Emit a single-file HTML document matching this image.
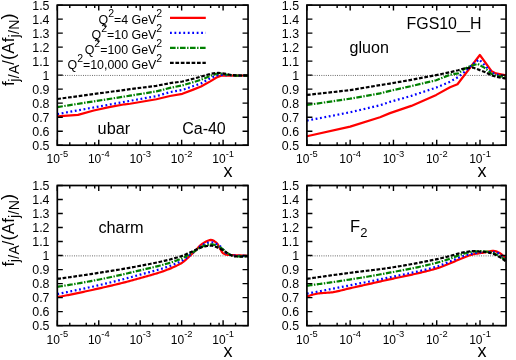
<!DOCTYPE html>
<html><head><meta charset="utf-8"><title>FGS10_H nuclear ratios</title>
<style>
html,body{margin:0;padding:0;background:#fff;}
body{width:516px;height:360px;overflow:hidden;font-family:"Liberation Sans", sans-serif;}
svg{display:block;font-family:"Liberation Sans", sans-serif;will-change:transform;}
text{fill:#000;font-family:"Liberation Sans", sans-serif;}
</style></head><body>
<svg width="516" height="360" viewBox="0 0 516 360">
<rect width="516" height="360" fill="#fff"/>
<line x1="60.50" x2="248.05" y1="75.45" y2="75.45" stroke="#4a4a4a" stroke-width="0.9" stroke-dasharray="0.9,1.35"/>
<clipPath id="cp1"><rect x="57.3" y="5.1" width="190.75" height="140.1"/></clipPath>
<g clip-path="url(#cp1)" fill="none" stroke-linejoin="round">
<polyline points="57.30,116.40 78.02,114.84 93.77,110.46 109.11,107.09 124.86,104.29 130.00,103.77 156.36,99.25 170.00,96.02 182.39,93.83 193.25,89.62 201.00,86.50 210.29,81.37 216.50,77.53 221.15,75.61 225.17,75.43 236.36,75.57 248.05,75.57" stroke="#ff0000" stroke-width="2.2"/>
<polyline points="57.30,114.10 130.00,100.83 156.36,96.16 170.00,92.10 182.39,89.94 193.25,86.08 201.00,83.42 210.29,78.23 216.50,75.43 219.78,74.87 228.48,75.15 236.36,75.57 248.05,75.57" stroke="#0000ff" stroke-width="2.2" stroke-dasharray="1.8,2.65"/>
<polyline points="57.30,107.09 130.00,95.70 156.36,91.40 170.00,87.90 182.39,85.38 193.25,82.16 201.00,79.82 210.29,75.93 216.50,73.75 221.15,73.61 227.36,74.73 232.01,75.29 236.36,75.57 248.05,75.57" stroke="#008000" stroke-width="2.2" stroke-dasharray="5.6,1.5,1.4,1.5"/>
<polyline points="57.30,98.97 130.00,89.19 156.36,85.80 170.00,83.14 182.39,81.51 193.25,78.74 201.00,76.69 210.29,73.89 218.12,72.81 224.26,73.61 232.01,75.15 236.36,75.43 248.05,75.57" stroke="#000000" stroke-width="2.2" stroke-dasharray="3.7,1.7"/>
</g>
<path d="M57.3 145.20h5.5 M248.05 145.20h-5.5 M57.3 131.19h5.5 M248.05 131.19h-5.5 M57.3 117.18h5.5 M248.05 117.18h-5.5 M57.3 103.17h5.5 M248.05 103.17h-5.5 M57.3 89.16h5.5 M248.05 89.16h-5.5 M57.3 75.15h5.5 M248.05 75.15h-5.5 M57.3 61.14h5.5 M248.05 61.14h-5.5 M57.3 47.13h5.5 M248.05 47.13h-5.5 M57.3 33.12h5.5 M248.05 33.12h-5.5 M57.3 19.11h5.5 M248.05 19.11h-5.5 M57.3 5.10h5.5 M248.05 5.10h-5.5 M57.30 145.2v-5.5 M57.30 5.1v5.5 M69.78 145.2v-2.9 M69.78 5.1v2.9 M86.27 145.2v-2.9 M86.27 5.1v2.9 M94.73 145.2v-2.9 M94.73 5.1v2.9 M98.75 145.2v-5.5 M98.75 5.1v5.5 M111.23 145.2v-2.9 M111.23 5.1v2.9 M127.72 145.2v-2.9 M127.72 5.1v2.9 M136.18 145.2v-2.9 M136.18 5.1v2.9 M140.20 145.2v-5.5 M140.20 5.1v5.5 M152.68 145.2v-2.9 M152.68 5.1v2.9 M169.17 145.2v-2.9 M169.17 5.1v2.9 M177.63 145.2v-2.9 M177.63 5.1v2.9 M181.65 145.2v-5.5 M181.65 5.1v5.5 M194.12 145.2v-2.9 M194.12 5.1v2.9 M210.62 145.2v-2.9 M210.62 5.1v2.9 M219.08 145.2v-2.9 M219.08 5.1v2.9 M223.10 145.2v-5.5 M223.10 5.1v5.5 M235.57 145.2v-2.9 M235.57 5.1v2.9" stroke="#000" stroke-width="1.4" fill="none"/>
<rect x="57.3" y="5.1" width="190.75" height="140.1" fill="none" stroke="#000" stroke-width="1.7"/>
<text x="49.50" y="149.65" text-anchor="end" font-size="12.4">0.5</text>
<text x="49.50" y="135.64" text-anchor="end" font-size="12.4">0.6</text>
<text x="49.50" y="121.63" text-anchor="end" font-size="12.4">0.7</text>
<text x="49.50" y="107.62" text-anchor="end" font-size="12.4">0.8</text>
<text x="49.50" y="93.61" text-anchor="end" font-size="12.4">0.9</text>
<text x="49.50" y="79.60" text-anchor="end" font-size="12.4">1</text>
<text x="49.50" y="65.59" text-anchor="end" font-size="12.4">1.1</text>
<text x="49.50" y="51.58" text-anchor="end" font-size="12.4">1.2</text>
<text x="49.50" y="37.57" text-anchor="end" font-size="12.4">1.3</text>
<text x="49.50" y="23.56" text-anchor="end" font-size="12.4">1.4</text>
<text x="49.50" y="9.55" text-anchor="end" font-size="12.4">1.5</text>
<text x="46.50" y="163.40" font-size="12">10<tspan dy="-6.7" font-size="9.4">-5</tspan></text>
<text x="87.95" y="163.40" font-size="12">10<tspan dy="-6.7" font-size="9.4">-4</tspan></text>
<text x="129.40" y="163.40" font-size="12">10<tspan dy="-6.7" font-size="9.4">-3</tspan></text>
<text x="170.85" y="163.40" font-size="12">10<tspan dy="-6.7" font-size="9.4">-2</tspan></text>
<text x="212.30" y="163.40" font-size="12">10<tspan dy="-6.7" font-size="9.4">-1</tspan></text>
<text x="228.10" y="176.65" text-anchor="middle" font-size="18">x</text>
<line x1="310.10" x2="506.05" y1="75.45" y2="75.45" stroke="#4a4a4a" stroke-width="0.9" stroke-dasharray="0.9,1.35"/>
<clipPath id="cp2"><rect x="306.9" y="5.1" width="199.15000000000003" height="140.1"/></clipPath>
<g clip-path="url(#cp2)" fill="none" stroke-linejoin="round">
<polyline points="306.90,136.23 350.17,126.65 379.99,117.18 389.99,113.12 411.28,105.90 436.25,94.90 450.01,87.27 457.49,84.26 470.04,67.72 479.87,55.02 491.72,71.28 495.83,73.37 506.05,75.43" stroke="#ff0000" stroke-width="2.2"/>
<polyline points="306.90,120.60 350.17,112.28 379.99,105.27 389.99,101.84 411.28,95.88 436.25,87.55 450.01,81.73 458.14,77.11 463.94,72.26 470.87,65.76 479.17,59.46 491.72,72.67 496.44,74.59 506.05,76.41" stroke="#0000ff" stroke-width="2.2" stroke-dasharray="1.8,2.65"/>
<polyline points="306.90,104.99 350.17,98.69 379.99,93.36 389.99,90.84 411.28,86.08 436.25,80.26 450.01,74.73 458.14,73.37 463.94,69.20 470.87,65.76 477.79,63.94 484.71,67.86 491.72,74.07 496.44,75.71 506.05,77.25" stroke="#008000" stroke-width="2.2" stroke-dasharray="5.6,1.5,1.4,1.5"/>
<polyline points="306.90,94.96 350.17,90.14 379.99,85.10 389.99,83.56 411.28,79.84 436.25,75.05 450.01,72.26 458.14,70.25 463.94,68.51 472.94,67.53 484.71,71.98 491.72,75.43 496.44,76.83 506.05,78.65" stroke="#000000" stroke-width="2.2" stroke-dasharray="3.7,1.7"/>
</g>
<path d="M306.9 145.20h5.5 M506.05 145.20h-5.5 M306.9 131.19h5.5 M506.05 131.19h-5.5 M306.9 117.18h5.5 M506.05 117.18h-5.5 M306.9 103.17h5.5 M506.05 103.17h-5.5 M306.9 89.16h5.5 M506.05 89.16h-5.5 M306.9 75.15h5.5 M506.05 75.15h-5.5 M306.9 61.14h5.5 M506.05 61.14h-5.5 M306.9 47.13h5.5 M506.05 47.13h-5.5 M306.9 33.12h5.5 M506.05 33.12h-5.5 M306.9 19.11h5.5 M506.05 19.11h-5.5 M306.9 5.10h5.5 M506.05 5.10h-5.5 M306.90 145.2v-5.5 M306.90 5.1v5.5 M319.93 145.2v-2.9 M319.93 5.1v2.9 M337.15 145.2v-2.9 M337.15 5.1v2.9 M345.98 145.2v-2.9 M345.98 5.1v2.9 M350.17 145.2v-5.5 M350.17 5.1v5.5 M363.20 145.2v-2.9 M363.20 5.1v2.9 M380.42 145.2v-2.9 M380.42 5.1v2.9 M389.25 145.2v-2.9 M389.25 5.1v2.9 M393.45 145.2v-5.5 M393.45 5.1v5.5 M406.48 145.2v-2.9 M406.48 5.1v2.9 M423.70 145.2v-2.9 M423.70 5.1v2.9 M432.53 145.2v-2.9 M432.53 5.1v2.9 M436.72 145.2v-5.5 M436.72 5.1v5.5 M449.75 145.2v-2.9 M449.75 5.1v2.9 M466.97 145.2v-2.9 M466.97 5.1v2.9 M475.80 145.2v-2.9 M475.80 5.1v2.9 M480.00 145.2v-5.5 M480.00 5.1v5.5 M493.02 145.2v-2.9 M493.02 5.1v2.9" stroke="#000" stroke-width="1.4" fill="none"/>
<rect x="306.9" y="5.1" width="199.15000000000003" height="140.1" fill="none" stroke="#000" stroke-width="1.7"/>
<text x="299.10" y="149.65" text-anchor="end" font-size="12.4">0.5</text>
<text x="299.10" y="135.64" text-anchor="end" font-size="12.4">0.6</text>
<text x="299.10" y="121.63" text-anchor="end" font-size="12.4">0.7</text>
<text x="299.10" y="107.62" text-anchor="end" font-size="12.4">0.8</text>
<text x="299.10" y="93.61" text-anchor="end" font-size="12.4">0.9</text>
<text x="299.10" y="79.60" text-anchor="end" font-size="12.4">1</text>
<text x="299.10" y="65.59" text-anchor="end" font-size="12.4">1.1</text>
<text x="299.10" y="51.58" text-anchor="end" font-size="12.4">1.2</text>
<text x="299.10" y="37.57" text-anchor="end" font-size="12.4">1.3</text>
<text x="299.10" y="23.56" text-anchor="end" font-size="12.4">1.4</text>
<text x="299.10" y="9.55" text-anchor="end" font-size="12.4">1.5</text>
<text x="296.10" y="163.40" font-size="12">10<tspan dy="-6.7" font-size="9.4">-5</tspan></text>
<text x="339.37" y="163.40" font-size="12">10<tspan dy="-6.7" font-size="9.4">-4</tspan></text>
<text x="382.65" y="163.40" font-size="12">10<tspan dy="-6.7" font-size="9.4">-3</tspan></text>
<text x="425.92" y="163.40" font-size="12">10<tspan dy="-6.7" font-size="9.4">-2</tspan></text>
<text x="469.20" y="163.40" font-size="12">10<tspan dy="-6.7" font-size="9.4">-1</tspan></text>
<text x="482.00" y="176.65" text-anchor="middle" font-size="18">x</text>
<line x1="60.50" x2="248.05" y1="255.88" y2="255.88" stroke="#4a4a4a" stroke-width="0.9" stroke-dasharray="0.9,1.35"/>
<clipPath id="cp3"><rect x="57.3" y="185.5" width="190.75" height="140.14999999999998"/></clipPath>
<g clip-path="url(#cp3)" fill="none" stroke-linejoin="round">
<polyline points="57.30,297.16 58.50,296.93 59.70,296.70 60.90,296.47 62.10,296.23 63.30,296.00 64.50,295.76 65.70,295.53 66.90,295.29 68.10,295.05 69.30,294.81 70.50,294.56 71.70,294.32 72.90,294.07 74.10,293.83 75.30,293.58 76.49,293.33 77.69,293.08 78.89,292.83 80.09,292.57 81.29,292.32 82.49,292.06 83.69,291.80 84.89,291.54 86.09,291.28 87.29,291.02 88.49,290.76 89.69,290.50 90.89,290.23 92.09,289.97 93.29,289.70 94.49,289.43 95.69,289.16 96.89,288.89 98.09,288.62 99.29,288.35 100.49,288.08 101.69,287.81 102.89,287.53 104.09,287.26 105.29,286.98 106.49,286.71 107.69,286.43 108.89,286.16 110.09,285.88 111.29,285.60 112.48,285.32 113.68,285.03 114.88,284.75 116.08,284.46 117.28,284.17 118.48,283.88 119.68,283.59 120.88,283.29 122.08,282.99 123.28,282.69 124.48,282.38 125.68,282.07 126.88,281.76 128.08,281.44 129.28,281.12 130.48,280.79 131.68,280.47 132.88,280.13 134.08,279.80 135.28,279.45 136.48,279.11 137.68,278.78 138.88,278.44 140.08,278.11 141.28,277.78 142.48,277.45 143.68,277.12 144.88,276.79 146.08,276.46 147.28,276.13 148.47,275.79 149.67,275.46 150.87,275.12 152.07,274.77 153.27,274.42 154.47,274.06 155.67,273.70 156.87,273.33 158.07,272.95 159.27,272.57 160.47,272.18 161.67,271.77 162.87,271.36 164.07,270.94 165.27,270.50 166.47,270.05 167.67,269.59 168.87,269.12 170.07,268.63 171.27,268.13 172.47,267.61 173.67,267.08 174.87,266.53 176.07,265.96 177.27,265.38 178.47,264.78 179.67,264.15 180.87,263.49 182.07,262.71 183.27,261.84 184.47,260.88 185.66,259.86 186.86,258.79 188.06,257.67 189.26,256.53 190.46,255.38 191.66,254.24 192.86,253.11 194.06,252.00 195.26,250.79 196.46,249.50 197.66,248.17 198.86,246.87 200.06,245.64 201.26,244.54 202.46,243.63 203.66,242.91 204.86,242.21 206.06,241.55 207.26,240.95 208.46,240.45 209.66,240.10 210.86,239.93 212.06,240.03 213.26,240.51 214.46,241.26 215.66,242.17 216.86,243.16 218.06,244.76 219.26,246.95 220.46,249.34 221.65,251.52 222.85,253.10 224.05,253.84 225.25,254.35 226.45,254.71 227.65,254.89 228.85,254.96 230.05,255.01 231.25,255.05 232.45,255.09 233.65,255.13 234.85,255.18 236.05,255.24 237.25,255.29 238.45,255.35 239.65,255.41 240.85,255.47 242.05,255.53 243.25,255.59 244.45,255.66 245.65,255.72 246.85,255.79 248.05,255.86" stroke="#ff0000" stroke-width="2.2"/>
<polyline points="57.30,294.05 58.50,293.81 59.70,293.58 60.90,293.35 62.10,293.11 63.30,292.87 64.50,292.63 65.70,292.39 66.90,292.15 68.10,291.90 69.30,291.66 70.50,291.41 71.70,291.16 72.90,290.91 74.10,290.66 75.30,290.41 76.49,290.15 77.69,289.90 78.89,289.64 80.09,289.38 81.29,289.12 82.49,288.86 83.69,288.60 84.89,288.33 86.09,288.07 87.29,287.80 88.49,287.53 89.69,287.26 90.89,286.99 92.09,286.72 93.29,286.45 94.49,286.18 95.69,285.90 96.89,285.62 98.09,285.35 99.29,285.07 100.49,284.79 101.69,284.51 102.89,284.23 104.09,283.94 105.29,283.66 106.49,283.37 107.69,283.09 108.89,282.80 110.09,282.51 111.29,282.22 112.48,281.92 113.68,281.63 114.88,281.33 116.08,281.03 117.28,280.73 118.48,280.43 119.68,280.12 120.88,279.81 122.08,279.51 123.28,279.19 124.48,278.88 125.68,278.57 126.88,278.25 128.08,277.93 129.28,277.60 130.48,277.28 131.68,276.95 132.88,276.62 134.08,276.29 135.28,275.95 136.48,275.62 137.68,275.29 138.88,274.97 140.08,274.64 141.28,274.32 142.48,274.01 143.68,273.69 144.88,273.37 146.08,273.06 147.28,272.74 148.47,272.42 149.67,272.10 150.87,271.78 152.07,271.46 153.27,271.13 154.47,270.80 155.67,270.46 156.87,270.12 158.07,269.78 159.27,269.42 160.47,269.06 161.67,268.70 162.87,268.32 164.07,267.94 165.27,267.54 166.47,267.14 167.67,266.73 168.87,266.30 170.07,265.87 171.27,265.42 172.47,264.96 173.67,264.48 174.87,263.99 176.07,263.49 177.27,262.97 178.47,262.44 179.67,261.89 180.87,261.31 182.07,260.64 183.27,259.91 184.47,259.12 185.66,258.28 186.86,257.39 188.06,256.48 189.26,255.55 190.46,254.62 191.66,253.68 192.86,252.76 194.06,251.84 195.26,250.84 196.46,249.76 197.66,248.65 198.86,247.57 200.06,246.55 201.26,245.66 202.46,244.93 203.66,244.39 204.86,243.89 206.06,243.41 207.26,242.98 208.46,242.63 209.66,242.39 210.86,242.27 212.06,242.32 213.26,242.57 214.46,242.98 215.66,243.53 216.86,244.16 218.06,244.85 219.26,245.56 220.46,246.45 221.65,247.71 222.85,249.17 224.05,250.68 225.25,252.08 226.45,253.19 227.65,253.88 228.85,254.33 230.05,254.74 231.25,255.08 232.45,255.35 233.65,255.52 234.85,255.61 236.05,255.67 237.25,255.73 238.45,255.79 239.65,255.84 240.85,255.88 242.05,255.91 243.25,255.94 244.45,255.97 245.65,255.98 246.85,255.99 248.05,256.00" stroke="#0000ff" stroke-width="2.2" stroke-dasharray="1.8,2.65"/>
<polyline points="57.30,286.77 58.50,286.59 59.70,286.41 60.90,286.23 62.10,286.05 63.30,285.86 64.50,285.67 65.70,285.48 66.90,285.29 68.10,285.10 69.30,284.90 70.50,284.70 71.70,284.50 72.90,284.30 74.10,284.10 75.30,283.89 76.49,283.69 77.69,283.48 78.89,283.27 80.09,283.06 81.29,282.85 82.49,282.63 83.69,282.42 84.89,282.20 86.09,281.98 87.29,281.76 88.49,281.54 89.69,281.31 90.89,281.09 92.09,280.86 93.29,280.63 94.49,280.40 95.69,280.17 96.89,279.94 98.09,279.71 99.29,279.48 100.49,279.24 101.69,279.00 102.89,278.76 104.09,278.52 105.29,278.27 106.49,278.02 107.69,277.77 108.89,277.52 110.09,277.27 111.29,277.01 112.48,276.75 113.68,276.49 114.88,276.23 116.08,275.96 117.28,275.69 118.48,275.42 119.68,275.15 120.88,274.88 122.08,274.61 123.28,274.33 124.48,274.05 125.68,273.77 126.88,273.49 128.08,273.21 129.28,272.92 130.48,272.64 131.68,272.35 132.88,272.06 134.08,271.77 135.28,271.48 136.48,271.19 137.68,270.90 138.88,270.62 140.08,270.34 141.28,270.05 142.48,269.78 143.68,269.50 144.88,269.22 146.08,268.94 147.28,268.66 148.47,268.39 149.67,268.11 150.87,267.82 152.07,267.54 153.27,267.25 154.47,266.96 155.67,266.67 156.87,266.37 158.07,266.07 159.27,265.76 160.47,265.45 161.67,265.13 162.87,264.81 164.07,264.48 165.27,264.14 166.47,263.80 167.67,263.44 168.87,263.08 170.07,262.71 171.27,262.33 172.47,261.95 173.67,261.55 174.87,261.14 176.07,260.72 177.27,260.29 178.47,259.84 179.67,259.39 180.87,258.90 182.07,258.37 183.27,257.78 184.47,257.15 185.66,256.48 186.86,255.79 188.06,255.08 189.26,254.36 190.46,253.63 191.66,252.91 192.86,252.21 194.06,251.51 195.26,250.76 196.46,249.96 197.66,249.15 198.86,248.36 200.06,247.62 201.26,246.96 202.46,246.41 203.66,245.99 204.86,245.59 206.06,245.21 207.26,244.86 208.46,244.58 209.66,244.38 210.86,244.28 212.06,244.32 213.26,244.51 214.46,244.84 215.66,245.27 216.86,245.79 218.06,246.36 219.26,246.97 220.46,247.58 221.65,248.29 222.85,249.24 224.05,250.32 225.25,251.42 226.45,252.43 227.65,253.22 228.85,253.92 230.05,254.61 231.25,255.23 232.45,255.73 233.65,256.05 234.85,256.18 236.05,256.26 237.25,256.32 238.45,256.37 239.65,256.40 240.85,256.42 242.05,256.41 243.25,256.39 244.45,256.35 245.65,256.30 246.85,256.22 248.05,256.14" stroke="#008000" stroke-width="2.2" stroke-dasharray="5.6,1.5,1.4,1.5"/>
<polyline points="57.30,278.87 58.50,278.71 59.70,278.55 60.90,278.39 62.10,278.22 63.30,278.06 64.50,277.90 65.70,277.73 66.90,277.56 68.10,277.40 69.30,277.23 70.50,277.06 71.70,276.89 72.90,276.72 74.10,276.55 75.30,276.38 76.49,276.20 77.69,276.03 78.89,275.86 80.09,275.68 81.29,275.50 82.49,275.33 83.69,275.15 84.89,274.97 86.09,274.79 87.29,274.61 88.49,274.43 89.69,274.25 90.89,274.07 92.09,273.89 93.29,273.70 94.49,273.52 95.69,273.33 96.89,273.15 98.09,272.96 99.29,272.78 100.49,272.59 101.69,272.40 102.89,272.21 104.09,272.03 105.29,271.84 106.49,271.65 107.69,271.46 108.89,271.27 110.09,271.08 111.29,270.89 112.48,270.70 113.68,270.50 114.88,270.31 116.08,270.11 117.28,269.92 118.48,269.72 119.68,269.52 120.88,269.31 122.08,269.11 123.28,268.90 124.48,268.70 125.68,268.49 126.88,268.28 128.08,268.06 129.28,267.85 130.48,267.63 131.68,267.41 132.88,267.18 134.08,266.96 135.28,266.73 136.48,266.50 137.68,266.27 138.88,266.04 140.08,265.82 141.28,265.59 142.48,265.36 143.68,265.14 144.88,264.91 146.08,264.68 147.28,264.45 148.47,264.21 149.67,263.98 150.87,263.74 152.07,263.50 153.27,263.26 154.47,263.02 155.67,262.77 156.87,262.52 158.07,262.26 159.27,262.00 160.47,261.74 161.67,261.47 162.87,261.20 164.07,260.92 165.27,260.64 166.47,260.35 167.67,260.06 168.87,259.76 170.07,259.45 171.27,259.13 172.47,258.81 173.67,258.49 174.87,258.15 176.07,257.81 177.27,257.45 178.47,257.10 179.67,256.73 180.87,256.34 182.07,255.91 183.27,255.44 184.47,254.93 185.66,254.41 186.86,253.86 188.06,253.31 189.26,252.75 190.46,252.19 191.66,251.65 192.86,251.12 194.06,250.61 195.26,250.06 196.46,249.50 197.66,248.94 198.86,248.39 200.06,247.88 201.26,247.42 202.46,247.04 203.66,246.75 204.86,246.47 206.06,246.20 207.26,245.96 208.46,245.78 209.66,245.66 210.86,245.63 212.06,245.73 213.26,245.97 214.46,246.32 215.66,246.76 216.86,247.26 218.06,247.81 219.26,248.37 220.46,248.92 221.65,249.50 222.85,250.20 224.05,250.98 225.25,251.77 226.45,252.53 227.65,253.21 228.85,253.89 230.05,254.61 231.25,255.27 232.45,255.83 233.65,256.19 234.85,256.32 236.05,256.40 237.25,256.46 238.45,256.51 239.65,256.54 240.85,256.56 242.05,256.55 243.25,256.53 244.45,256.49 245.65,256.44 246.85,256.36 248.05,256.28" stroke="#000000" stroke-width="2.2" stroke-dasharray="3.7,1.7"/>
</g>
<path d="M57.3 325.65h5.5 M248.05 325.65h-5.5 M57.3 311.63h5.5 M248.05 311.63h-5.5 M57.3 297.62h5.5 M248.05 297.62h-5.5 M57.3 283.60h5.5 M248.05 283.60h-5.5 M57.3 269.59h5.5 M248.05 269.59h-5.5 M57.3 255.57h5.5 M248.05 255.57h-5.5 M57.3 241.56h5.5 M248.05 241.56h-5.5 M57.3 227.54h5.5 M248.05 227.54h-5.5 M57.3 213.53h5.5 M248.05 213.53h-5.5 M57.3 199.52h5.5 M248.05 199.52h-5.5 M57.3 185.50h5.5 M248.05 185.50h-5.5 M57.30 325.65v-5.5 M57.30 185.5v5.5 M69.78 325.65v-2.9 M69.78 185.5v2.9 M86.27 325.65v-2.9 M86.27 185.5v2.9 M94.73 325.65v-2.9 M94.73 185.5v2.9 M98.75 325.65v-5.5 M98.75 185.5v5.5 M111.23 325.65v-2.9 M111.23 185.5v2.9 M127.72 325.65v-2.9 M127.72 185.5v2.9 M136.18 325.65v-2.9 M136.18 185.5v2.9 M140.20 325.65v-5.5 M140.20 185.5v5.5 M152.68 325.65v-2.9 M152.68 185.5v2.9 M169.17 325.65v-2.9 M169.17 185.5v2.9 M177.63 325.65v-2.9 M177.63 185.5v2.9 M181.65 325.65v-5.5 M181.65 185.5v5.5 M194.12 325.65v-2.9 M194.12 185.5v2.9 M210.62 325.65v-2.9 M210.62 185.5v2.9 M219.08 325.65v-2.9 M219.08 185.5v2.9 M223.10 325.65v-5.5 M223.10 185.5v5.5 M235.57 325.65v-2.9 M235.57 185.5v2.9" stroke="#000" stroke-width="1.4" fill="none"/>
<rect x="57.3" y="185.5" width="190.75" height="140.14999999999998" fill="none" stroke="#000" stroke-width="1.7"/>
<text x="49.50" y="330.10" text-anchor="end" font-size="12.4">0.5</text>
<text x="49.50" y="316.08" text-anchor="end" font-size="12.4">0.6</text>
<text x="49.50" y="302.07" text-anchor="end" font-size="12.4">0.7</text>
<text x="49.50" y="288.05" text-anchor="end" font-size="12.4">0.8</text>
<text x="49.50" y="274.04" text-anchor="end" font-size="12.4">0.9</text>
<text x="49.50" y="260.02" text-anchor="end" font-size="12.4">1</text>
<text x="49.50" y="246.01" text-anchor="end" font-size="12.4">1.1</text>
<text x="49.50" y="231.99" text-anchor="end" font-size="12.4">1.2</text>
<text x="49.50" y="217.98" text-anchor="end" font-size="12.4">1.3</text>
<text x="49.50" y="203.97" text-anchor="end" font-size="12.4">1.4</text>
<text x="49.50" y="189.95" text-anchor="end" font-size="12.4">1.5</text>
<text x="46.50" y="343.85" font-size="12">10<tspan dy="-6.7" font-size="9.4">-5</tspan></text>
<text x="87.95" y="343.85" font-size="12">10<tspan dy="-6.7" font-size="9.4">-4</tspan></text>
<text x="129.40" y="343.85" font-size="12">10<tspan dy="-6.7" font-size="9.4">-3</tspan></text>
<text x="170.85" y="343.85" font-size="12">10<tspan dy="-6.7" font-size="9.4">-2</tspan></text>
<text x="212.30" y="343.85" font-size="12">10<tspan dy="-6.7" font-size="9.4">-1</tspan></text>
<text x="228.10" y="357.10" text-anchor="middle" font-size="18">x</text>
<line x1="310.10" x2="506.05" y1="255.88" y2="255.88" stroke="#4a4a4a" stroke-width="0.9" stroke-dasharray="0.9,1.35"/>
<clipPath id="cp4"><rect x="306.9" y="185.5" width="199.15000000000003" height="140.14999999999998"/></clipPath>
<g clip-path="url(#cp4)" fill="none" stroke-linejoin="round">
<polyline points="306.90,296.54 308.15,296.11 309.40,295.69 310.66,295.28 311.91,294.91 313.16,294.55 314.41,294.23 315.67,293.95 316.92,293.70 318.17,293.49 319.42,293.34 320.68,293.20 321.93,293.10 323.18,293.00 324.43,292.92 325.69,292.84 326.94,292.76 328.19,292.67 329.44,292.56 330.70,292.44 331.95,292.29 333.20,292.11 334.45,291.90 335.71,291.67 336.96,291.41 338.21,291.13 339.46,290.84 340.72,290.53 341.97,290.22 343.22,289.90 344.47,289.58 345.73,289.26 346.98,288.94 348.23,288.64 349.48,288.35 350.74,288.07 351.99,287.79 353.24,287.51 354.49,287.23 355.75,286.95 357.00,286.67 358.25,286.39 359.50,286.11 360.76,285.84 362.01,285.56 363.26,285.28 364.51,285.00 365.77,284.72 367.02,284.44 368.27,284.16 369.52,283.88 370.78,283.60 372.03,283.32 373.28,283.03 374.53,282.75 375.79,282.47 377.04,282.19 378.29,281.91 379.54,281.62 380.80,281.34 382.05,281.05 383.30,280.77 384.55,280.49 385.81,280.20 387.06,279.92 388.31,279.64 389.56,279.36 390.82,279.09 392.07,278.82 393.32,278.55 394.57,278.29 395.83,278.02 397.08,277.76 398.33,277.49 399.58,277.23 400.84,276.97 402.09,276.71 403.34,276.44 404.59,276.18 405.85,275.92 407.10,275.65 408.35,275.39 409.60,275.12 410.86,274.85 412.11,274.58 413.36,274.30 414.61,274.03 415.87,273.75 417.12,273.47 418.37,273.18 419.62,272.89 420.88,272.59 422.13,272.29 423.38,271.99 424.63,271.68 425.89,271.37 427.14,271.05 428.39,270.72 429.64,270.39 430.90,270.05 432.15,269.71 433.40,269.36 434.65,269.00 435.91,268.63 437.16,268.26 438.41,267.86 439.66,267.45 440.92,267.00 442.17,266.54 443.42,266.06 444.67,265.57 445.93,265.08 447.18,264.57 448.43,264.06 449.68,263.55 450.94,263.04 452.19,262.51 453.44,261.95 454.69,261.39 455.95,260.82 457.20,260.26 458.45,259.70 459.70,259.17 460.96,258.65 462.21,258.16 463.46,257.67 464.71,257.17 465.97,256.68 467.22,256.21 468.47,255.75 469.72,255.32 470.98,254.93 472.23,254.57 473.48,254.27 474.73,254.01 475.99,253.77 477.24,253.55 478.49,253.35 479.74,253.16 481.00,252.98 482.25,252.79 483.50,252.59 484.75,252.37 486.01,252.12 487.26,251.82 488.51,251.51 489.76,251.22 491.02,250.98 492.27,250.84 493.52,250.83 494.77,251.02 496.03,251.39 497.28,251.87 498.53,252.42 499.78,253.05 501.04,253.95 502.29,255.03 503.54,256.20 504.79,257.38 506.05,258.66" stroke="#ff0000" stroke-width="2.2"/>
<polyline points="306.90,293.63 308.15,293.39 309.40,293.15 310.66,292.92 311.91,292.68 313.16,292.44 314.41,292.20 315.67,291.97 316.92,291.73 318.17,291.49 319.42,291.25 320.68,291.01 321.93,290.77 323.18,290.53 324.43,290.29 325.69,290.05 326.94,289.81 328.19,289.57 329.44,289.32 330.70,289.08 331.95,288.84 333.20,288.60 334.45,288.35 335.71,288.11 336.96,287.87 338.21,287.62 339.46,287.38 340.72,287.14 341.97,286.89 343.22,286.65 344.47,286.40 345.73,286.15 346.98,285.91 348.23,285.66 349.48,285.42 350.74,285.17 351.99,284.92 353.24,284.68 354.49,284.43 355.75,284.19 357.00,283.94 358.25,283.69 359.50,283.45 360.76,283.20 362.01,282.95 363.26,282.71 364.51,282.46 365.77,282.21 367.02,281.96 368.27,281.71 369.52,281.46 370.78,281.21 372.03,280.96 373.28,280.71 374.53,280.45 375.79,280.20 377.04,279.94 378.29,279.68 379.54,279.43 380.80,279.17 382.05,278.90 383.30,278.64 384.55,278.38 385.81,278.11 387.06,277.85 388.31,277.59 389.56,277.33 390.82,277.07 392.07,276.81 393.32,276.56 394.57,276.30 395.83,276.05 397.08,275.80 398.33,275.54 399.58,275.29 400.84,275.04 402.09,274.78 403.34,274.53 404.59,274.27 405.85,274.01 407.10,273.75 408.35,273.49 409.60,273.23 410.86,272.96 412.11,272.70 413.36,272.43 414.61,272.15 415.87,271.87 417.12,271.59 418.37,271.31 419.62,271.02 420.88,270.73 422.13,270.43 423.38,270.12 424.63,269.82 425.89,269.50 427.14,269.18 428.39,268.86 429.64,268.53 430.90,268.19 432.15,267.84 433.40,267.49 434.65,267.13 435.91,266.77 437.16,266.39 438.41,266.00 439.66,265.57 440.92,265.12 442.17,264.64 443.42,264.15 444.67,263.64 445.93,263.13 447.18,262.61 448.43,262.10 449.68,261.59 450.94,261.08 452.19,260.55 453.44,260.00 454.69,259.44 455.95,258.89 457.20,258.34 458.45,257.81 459.70,257.31 460.96,256.85 462.21,256.42 463.46,256.01 464.71,255.60 465.97,255.20 467.22,254.82 468.47,254.47 469.72,254.13 470.98,253.83 472.23,253.57 473.48,253.34 474.73,253.13 475.99,252.92 477.24,252.71 478.49,252.52 479.74,252.35 481.00,252.21 482.25,252.09 483.50,252.02 484.75,251.99 486.01,251.99 487.26,252.01 488.51,252.04 489.76,252.09 491.02,252.15 492.27,252.22 493.52,252.31 494.77,252.40 496.03,252.51 497.28,252.71 498.53,253.25 499.78,254.08 501.04,255.11 502.29,256.25 503.54,257.40 504.79,258.49 506.05,259.64" stroke="#0000ff" stroke-width="2.2" stroke-dasharray="1.8,2.65"/>
<polyline points="306.90,285.71 308.15,285.54 309.40,285.38 310.66,285.21 311.91,285.05 313.16,284.88 314.41,284.71 315.67,284.54 316.92,284.37 318.17,284.20 319.42,284.02 320.68,283.85 321.93,283.67 323.18,283.50 324.43,283.32 325.69,283.14 326.94,282.96 328.19,282.78 329.44,282.60 330.70,282.41 331.95,282.23 333.20,282.05 334.45,281.86 335.71,281.67 336.96,281.49 338.21,281.30 339.46,281.11 340.72,280.92 341.97,280.73 343.22,280.54 344.47,280.34 345.73,280.15 346.98,279.96 348.23,279.76 349.48,279.57 350.74,279.37 351.99,279.17 353.24,278.97 354.49,278.77 355.75,278.57 357.00,278.37 358.25,278.17 359.50,277.96 360.76,277.76 362.01,277.55 363.26,277.34 364.51,277.13 365.77,276.92 367.02,276.71 368.27,276.50 369.52,276.28 370.78,276.07 372.03,275.85 373.28,275.63 374.53,275.41 375.79,275.19 377.04,274.97 378.29,274.74 379.54,274.52 380.80,274.29 382.05,274.06 383.30,273.83 384.55,273.60 385.81,273.37 387.06,273.13 388.31,272.90 389.56,272.67 390.82,272.43 392.07,272.20 393.32,271.97 394.57,271.73 395.83,271.50 397.08,271.26 398.33,271.03 399.58,270.79 400.84,270.55 402.09,270.32 403.34,270.08 404.59,269.83 405.85,269.59 407.10,269.35 408.35,269.10 409.60,268.85 410.86,268.60 412.11,268.35 413.36,268.09 414.61,267.83 415.87,267.57 417.12,267.31 418.37,267.05 419.62,266.78 420.88,266.51 422.13,266.23 423.38,265.95 424.63,265.67 425.89,265.39 427.14,265.10 428.39,264.80 429.64,264.51 430.90,264.21 432.15,263.90 433.40,263.59 434.65,263.28 435.91,262.96 437.16,262.64 438.41,262.31 439.66,261.96 440.92,261.59 442.17,261.22 443.42,260.83 444.67,260.43 445.93,260.02 447.18,259.61 448.43,259.19 449.68,258.77 450.94,258.33 452.19,257.86 453.44,257.37 454.69,256.86 455.95,256.36 457.20,255.86 458.45,255.38 459.70,254.93 460.96,254.52 462.21,254.15 463.46,253.79 464.71,253.44 465.97,253.09 467.22,252.76 468.47,252.46 469.72,252.19 470.98,251.95 472.23,251.77 473.48,251.63 474.73,251.52 475.99,251.42 477.24,251.33 478.49,251.25 479.74,251.20 481.00,251.18 482.25,251.19 483.50,251.25 484.75,251.37 486.01,251.52 487.26,251.71 488.51,251.93 489.76,252.16 491.02,252.41 492.27,252.76 493.52,253.22 494.77,253.77 496.03,254.38 497.28,255.03 498.53,255.68 499.78,256.35 501.04,257.08 502.29,257.86 503.54,258.70 504.79,259.60 506.05,260.62" stroke="#008000" stroke-width="2.2" stroke-dasharray="5.6,1.5,1.4,1.5"/>
<polyline points="306.90,278.87 308.15,278.68 309.40,278.50 310.66,278.31 311.91,278.13 313.16,277.94 314.41,277.76 315.67,277.58 316.92,277.40 318.17,277.21 319.42,277.03 320.68,276.85 321.93,276.68 323.18,276.50 324.43,276.32 325.69,276.14 326.94,275.96 328.19,275.79 329.44,275.61 330.70,275.44 331.95,275.26 333.20,275.09 334.45,274.92 335.71,274.75 336.96,274.58 338.21,274.40 339.46,274.23 340.72,274.06 341.97,273.90 343.22,273.73 344.47,273.56 345.73,273.39 346.98,273.23 348.23,273.06 349.48,272.90 350.74,272.73 351.99,272.57 353.24,272.41 354.49,272.26 355.75,272.10 357.00,271.95 358.25,271.80 359.50,271.65 360.76,271.50 362.01,271.36 363.26,271.21 364.51,271.06 365.77,270.92 367.02,270.77 368.27,270.63 369.52,270.48 370.78,270.33 372.03,270.18 373.28,270.03 374.53,269.87 375.79,269.72 377.04,269.56 378.29,269.40 379.54,269.24 380.80,269.07 382.05,268.90 383.30,268.73 384.55,268.55 385.81,268.37 387.06,268.18 388.31,268.00 389.56,267.81 390.82,267.62 392.07,267.42 393.32,267.23 394.57,267.03 395.83,266.83 397.08,266.63 398.33,266.42 399.58,266.22 400.84,266.01 402.09,265.80 403.34,265.59 404.59,265.37 405.85,265.16 407.10,264.94 408.35,264.72 409.60,264.49 410.86,264.27 412.11,264.04 413.36,263.81 414.61,263.58 415.87,263.35 417.12,263.12 418.37,262.88 419.62,262.64 420.88,262.40 422.13,262.16 423.38,261.91 424.63,261.67 425.89,261.42 427.14,261.17 428.39,260.92 429.64,260.67 430.90,260.41 432.15,260.16 433.40,259.90 434.65,259.64 435.91,259.37 437.16,259.11 438.41,258.84 439.66,258.56 440.92,258.28 442.17,257.99 443.42,257.69 444.67,257.38 445.93,257.07 447.18,256.76 448.43,256.44 449.68,256.12 450.94,255.79 452.19,255.42 453.44,255.04 454.69,254.65 455.95,254.26 457.20,253.88 458.45,253.52 459.70,253.19 460.96,252.91 462.21,252.67 463.46,252.43 464.71,252.19 465.97,251.96 467.22,251.75 468.47,251.55 469.72,251.39 470.98,251.27 472.23,251.20 473.48,251.17 474.73,251.19 475.99,251.23 477.24,251.30 478.49,251.38 479.74,251.48 481.00,251.59 482.25,251.71 483.50,251.84 484.75,251.97 486.01,252.13 487.26,252.33 488.51,252.57 489.76,252.85 491.02,253.16 492.27,253.51 493.52,253.90 494.77,254.41 496.03,255.03 497.28,255.71 498.53,256.42 499.78,257.15 501.04,257.94 502.29,258.77 503.54,259.66 504.79,260.58 506.05,261.60" stroke="#000000" stroke-width="2.2" stroke-dasharray="3.7,1.7"/>
</g>
<path d="M306.9 325.65h5.5 M506.05 325.65h-5.5 M306.9 311.63h5.5 M506.05 311.63h-5.5 M306.9 297.62h5.5 M506.05 297.62h-5.5 M306.9 283.60h5.5 M506.05 283.60h-5.5 M306.9 269.59h5.5 M506.05 269.59h-5.5 M306.9 255.57h5.5 M506.05 255.57h-5.5 M306.9 241.56h5.5 M506.05 241.56h-5.5 M306.9 227.54h5.5 M506.05 227.54h-5.5 M306.9 213.53h5.5 M506.05 213.53h-5.5 M306.9 199.52h5.5 M506.05 199.52h-5.5 M306.9 185.50h5.5 M506.05 185.50h-5.5 M306.90 325.65v-5.5 M306.90 185.5v5.5 M319.93 325.65v-2.9 M319.93 185.5v2.9 M337.15 325.65v-2.9 M337.15 185.5v2.9 M345.98 325.65v-2.9 M345.98 185.5v2.9 M350.17 325.65v-5.5 M350.17 185.5v5.5 M363.20 325.65v-2.9 M363.20 185.5v2.9 M380.42 325.65v-2.9 M380.42 185.5v2.9 M389.25 325.65v-2.9 M389.25 185.5v2.9 M393.45 325.65v-5.5 M393.45 185.5v5.5 M406.48 325.65v-2.9 M406.48 185.5v2.9 M423.70 325.65v-2.9 M423.70 185.5v2.9 M432.53 325.65v-2.9 M432.53 185.5v2.9 M436.72 325.65v-5.5 M436.72 185.5v5.5 M449.75 325.65v-2.9 M449.75 185.5v2.9 M466.97 325.65v-2.9 M466.97 185.5v2.9 M475.80 325.65v-2.9 M475.80 185.5v2.9 M480.00 325.65v-5.5 M480.00 185.5v5.5 M493.02 325.65v-2.9 M493.02 185.5v2.9" stroke="#000" stroke-width="1.4" fill="none"/>
<rect x="306.9" y="185.5" width="199.15000000000003" height="140.14999999999998" fill="none" stroke="#000" stroke-width="1.7"/>
<text x="299.10" y="330.10" text-anchor="end" font-size="12.4">0.5</text>
<text x="299.10" y="316.08" text-anchor="end" font-size="12.4">0.6</text>
<text x="299.10" y="302.07" text-anchor="end" font-size="12.4">0.7</text>
<text x="299.10" y="288.05" text-anchor="end" font-size="12.4">0.8</text>
<text x="299.10" y="274.04" text-anchor="end" font-size="12.4">0.9</text>
<text x="299.10" y="260.02" text-anchor="end" font-size="12.4">1</text>
<text x="299.10" y="246.01" text-anchor="end" font-size="12.4">1.1</text>
<text x="299.10" y="231.99" text-anchor="end" font-size="12.4">1.2</text>
<text x="299.10" y="217.98" text-anchor="end" font-size="12.4">1.3</text>
<text x="299.10" y="203.97" text-anchor="end" font-size="12.4">1.4</text>
<text x="299.10" y="189.95" text-anchor="end" font-size="12.4">1.5</text>
<text x="296.10" y="343.85" font-size="12">10<tspan dy="-6.7" font-size="9.4">-5</tspan></text>
<text x="339.37" y="343.85" font-size="12">10<tspan dy="-6.7" font-size="9.4">-4</tspan></text>
<text x="382.65" y="343.85" font-size="12">10<tspan dy="-6.7" font-size="9.4">-3</tspan></text>
<text x="425.92" y="343.85" font-size="12">10<tspan dy="-6.7" font-size="9.4">-2</tspan></text>
<text x="469.20" y="343.85" font-size="12">10<tspan dy="-6.7" font-size="9.4">-1</tspan></text>
<text x="482.00" y="357.10" text-anchor="middle" font-size="18">x</text>
<text transform="rotate(-90)" x="-86.00" y="13.75" font-size="16.6">f</text>
<text transform="rotate(-90)" x="-81.70" y="19.3" font-size="14.0" letter-spacing="0.4">j/A</text>
<text transform="rotate(-90)" x="-64.80" y="13.75" font-size="16.6">/</text>
<text transform="rotate(-90)" x="-59.90" y="13.55" font-size="18.2">(</text>
<text transform="rotate(-90)" x="-53.70" y="13.75" font-size="16.6" letter-spacing="0.45">Af</text>
<text transform="rotate(-90)" x="-37.60" y="19.3" font-size="14.2" letter-spacing="0.4">j/N</text>
<text transform="rotate(-90)" x="-19.40" y="13.55" font-size="18.2">)</text>
<text transform="rotate(-90)" x="-266.50" y="13.75" font-size="16.6">f</text>
<text transform="rotate(-90)" x="-262.20" y="19.3" font-size="14.0" letter-spacing="0.4">j/A</text>
<text transform="rotate(-90)" x="-245.30" y="13.75" font-size="16.6">/</text>
<text transform="rotate(-90)" x="-240.40" y="13.55" font-size="18.2">(</text>
<text transform="rotate(-90)" x="-234.20" y="13.75" font-size="16.6" letter-spacing="0.45">Af</text>
<text transform="rotate(-90)" x="-218.10" y="19.3" font-size="14.2" letter-spacing="0.4">j/N</text>
<text transform="rotate(-90)" x="-199.90" y="13.55" font-size="18.2">)</text>
<text x="162.2" y="23.60" text-anchor="end" font-size="12.4">Q<tspan dy="-6.3" font-size="10.5">2</tspan><tspan dy="6.3" font-size="12.4">=4 GeV</tspan><tspan dy="-6.3" font-size="10.5">2</tspan></text>
<line x1="170" x2="205.8" y1="17.8" y2="17.8" stroke="#ff0000" stroke-width="2.2"/>
<text x="162.2" y="38.60" text-anchor="end" font-size="12.4">Q<tspan dy="-6.3" font-size="10.5">2</tspan><tspan dy="6.3" font-size="12.4">=10 GeV</tspan><tspan dy="-6.3" font-size="10.5">2</tspan></text>
<line x1="170" x2="205.8" y1="32.8" y2="32.8" stroke="#0000ff" stroke-width="2.2" stroke-dasharray="1.8,2.65"/>
<text x="162.2" y="53.60" text-anchor="end" font-size="12.4">Q<tspan dy="-6.3" font-size="10.5">2</tspan><tspan dy="6.3" font-size="12.4">=100 GeV</tspan><tspan dy="-6.3" font-size="10.5">2</tspan></text>
<line x1="170" x2="205.8" y1="47.8" y2="47.8" stroke="#008000" stroke-width="2.2" stroke-dasharray="5.6,1.5,1.4,1.5"/>
<text x="162.2" y="68.60" text-anchor="end" font-size="12.4">Q<tspan dy="-6.3" font-size="10.5">2</tspan><tspan dy="6.3" font-size="12.4">=10,000 GeV</tspan><tspan dy="-6.3" font-size="10.5">2</tspan></text>
<line x1="170" x2="205.8" y1="62.8" y2="62.8" stroke="#000000" stroke-width="2.2" stroke-dasharray="3.7,1.7"/>
<text x="97.6" y="133.8" font-size="16.3">ubar</text>
<text x="182.2" y="133.8" font-size="16">Ca-40</text>
<text x="349.5" y="52.9" font-size="16.1">gluon</text>
<text x="406.6" y="29.2" font-size="15.9">FGS10<tspan textLength="13" lengthAdjust="spacingAndGlyphs">_</tspan>H</text>
<text x="98.4" y="233.3" font-size="16.3">charm</text>
<text x="350.1" y="231.5" font-size="16.5">F<tspan dy="5" font-size="13">2</tspan></text>
</svg>
</body></html>
